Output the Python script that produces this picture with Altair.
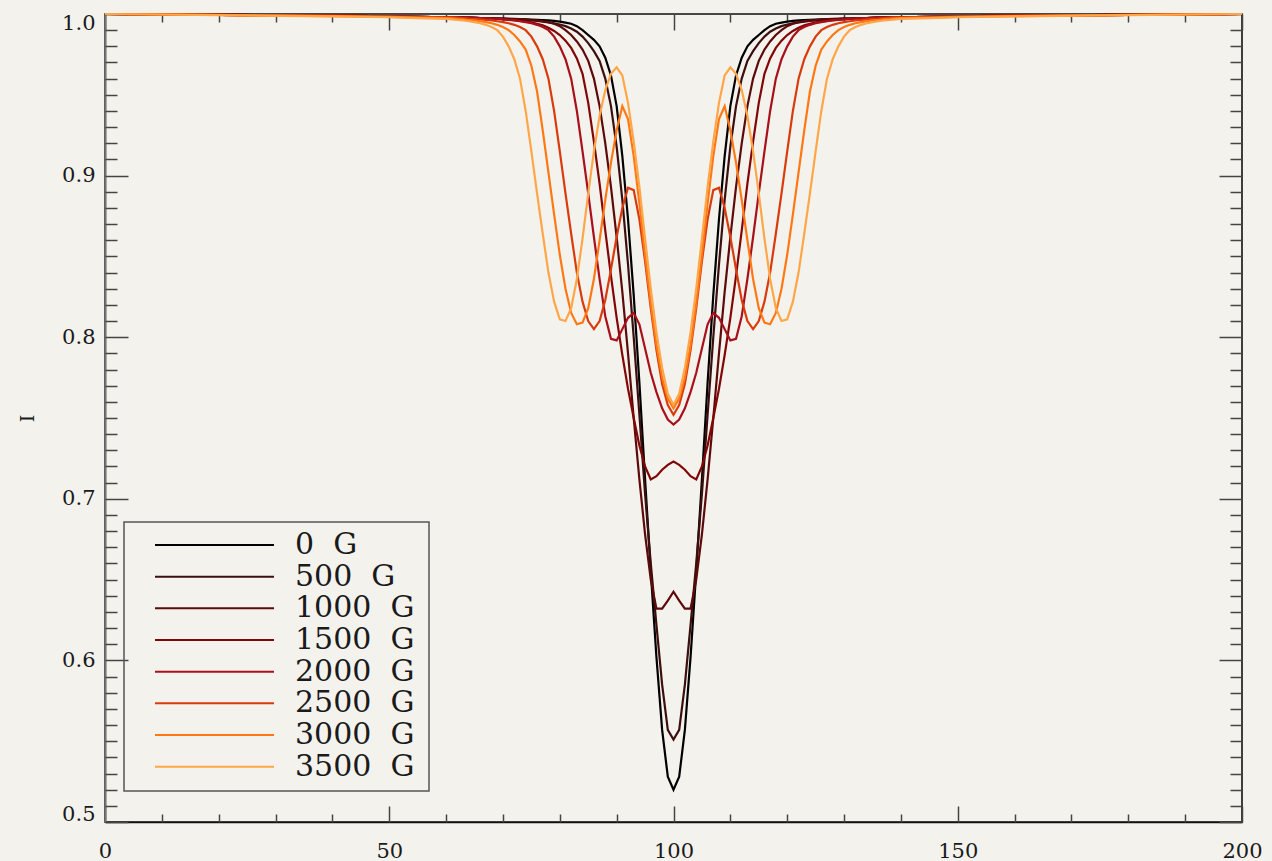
import altair as alt
import pandas as pd

# Sample positions along the wavelength axis (pixel index)
X_POS = [0, 20, 40, 50, 55] + list(range(60, 141)) + [145, 150, 160, 180, 200]

FIELD_LABELS = [
    "0\u00a0\u00a0G", "500\u00a0\u00a0G", "1000\u00a0\u00a0G", "1500\u00a0\u00a0G",
    "2000\u00a0\u00a0G", "2500\u00a0\u00a0G", "3000\u00a0\u00a0G", "3500\u00a0\u00a0G",
]
LINE_COLORS = ["#000000", "#3c0f0f", "#5c0a0a", "#820606", "#a8101a",
               "#d83c0c", "#ff7814", "#ffa648"]

# Stokes I profiles for each field strength
I_0G = [1.0, 0.9995, 0.999, 0.9986, 0.9983,
        0.998, 0.9979, 0.9979, 0.9978, 0.9977, 0.9976, 0.9975, 0.9974, 0.9973, 0.9972,
        0.9971, 0.997, 0.9969, 0.9968, 0.9967, 0.9966, 0.9964, 0.9962, 0.996, 0.9957,
        0.9953, 0.9947, 0.994, 0.9925, 0.990, 0.987, 0.984, 0.980, 0.973, 0.962,
        0.943, 0.912, 0.873, 0.826, 0.772, 0.712, 0.655, 0.602, 0.557, 0.528,
        0.520,
        0.528, 0.557, 0.602, 0.655, 0.712, 0.772, 0.826, 0.873, 0.912, 0.943,
        0.962, 0.973, 0.980, 0.984, 0.987, 0.990, 0.9925, 0.994, 0.9947, 0.9953,
        0.9957, 0.996, 0.9962, 0.9964, 0.9966, 0.9967, 0.9968, 0.9969, 0.997, 0.9971,
        0.9972, 0.9973, 0.9974, 0.9975, 0.9976, 0.9977, 0.9978, 0.9979, 0.9979, 0.998,
        0.9983, 0.9986, 0.999, 0.9995, 1.0]

I_500G = [1.0, 0.9995, 0.999, 0.9986, 0.9983,
          0.998, 0.998, 0.9979, 0.9978, 0.9977, 0.9976, 0.9975, 0.9974, 0.9973, 0.9972,
          0.997, 0.9968, 0.9966, 0.9964, 0.9962, 0.996, 0.9957, 0.9953, 0.9948, 0.9942,
          0.9935, 0.9925, 0.991, 0.989, 0.986, 0.982, 0.977, 0.971, 0.960, 0.943,
          0.918, 0.885, 0.845, 0.800, 0.752, 0.703, 0.660, 0.622, 0.585, 0.557,
          0.551,
          0.557, 0.585, 0.622, 0.660, 0.703, 0.752, 0.800, 0.845, 0.885, 0.918,
          0.943, 0.960, 0.971, 0.977, 0.982, 0.986, 0.989, 0.991, 0.9925, 0.9935,
          0.9942, 0.9948, 0.9953, 0.9957, 0.996, 0.9962, 0.9964, 0.9966, 0.9968, 0.997,
          0.9972, 0.9973, 0.9974, 0.9975, 0.9976, 0.9977, 0.9978, 0.9979, 0.998, 0.998,
          0.9983, 0.9986, 0.999, 0.9995, 1.0]

I_1000G = [1.0, 0.9995, 0.999, 0.9986, 0.9983,
           0.998, 0.998, 0.9979, 0.9978, 0.9977, 0.9976, 0.9975, 0.9974, 0.9973, 0.9972,
           0.9971, 0.997, 0.997, 0.9969, 0.9967, 0.9963, 0.996, 0.9955, 0.995, 0.994,
           0.9925, 0.990, 0.987, 0.983, 0.978, 0.971, 0.960, 0.943, 0.920, 0.893,
           0.862, 0.828, 0.790, 0.750, 0.712, 0.678, 0.650, 0.632, 0.632, 0.637,
           0.6425,
           0.637, 0.632, 0.632, 0.650, 0.678, 0.712, 0.750, 0.790, 0.828, 0.862,
           0.893, 0.920, 0.943, 0.960, 0.971, 0.978, 0.983, 0.987, 0.990, 0.9925,
           0.994, 0.995, 0.9955, 0.996, 0.9963, 0.9967, 0.9969, 0.997, 0.997, 0.9971,
           0.9972, 0.9973, 0.9974, 0.9975, 0.9976, 0.9977, 0.9978, 0.9979, 0.998, 0.998,
           0.9983, 0.9986, 0.999, 0.9995, 1.0]

I_1500G = [1.0, 0.9995, 0.999, 0.9986, 0.9983,
           0.998, 0.998, 0.9979, 0.9978, 0.9977, 0.9976, 0.9975, 0.9974, 0.9972, 0.997,
           0.9968, 0.9965, 0.9962, 0.9958, 0.9953, 0.9948, 0.994, 0.993, 0.9915, 0.9895,
           0.987, 0.9835, 0.979, 0.9725, 0.963, 0.945, 0.921, 0.895, 0.866, 0.838,
           0.812, 0.789, 0.768, 0.750, 0.733, 0.720, 0.712, 0.714, 0.718, 0.721,
           0.723,
           0.721, 0.718, 0.714, 0.712, 0.720, 0.733, 0.750, 0.768, 0.789, 0.812,
           0.838, 0.866, 0.895, 0.921, 0.945, 0.963, 0.9725, 0.979, 0.9835, 0.987,
           0.9895, 0.9915, 0.993, 0.994, 0.9948, 0.9953, 0.9958, 0.9962, 0.9965, 0.9968,
           0.997, 0.9972, 0.9974, 0.9975, 0.9976, 0.9977, 0.9978, 0.9979, 0.998, 0.998,
           0.9983, 0.9986, 0.999, 0.9995, 1.0]

I_2000G = [1.0, 0.9995, 0.999, 0.9986, 0.9983,
           0.998, 0.998, 0.9979, 0.9978, 0.9977, 0.9976, 0.9975, 0.9973, 0.9971, 0.997,
           0.9967, 0.9963, 0.996, 0.9955, 0.995, 0.9943, 0.9933, 0.992, 0.990, 0.986,
           0.980, 0.972, 0.960, 0.940, 0.915, 0.889, 0.862, 0.836, 0.813, 0.799,
           0.798, 0.805, 0.812, 0.815, 0.808, 0.793, 0.778, 0.766, 0.756, 0.749,
           0.746,
           0.749, 0.756, 0.766, 0.778, 0.793, 0.808, 0.815, 0.812, 0.805, 0.798,
           0.799, 0.813, 0.836, 0.862, 0.889, 0.915, 0.940, 0.960, 0.972, 0.980,
           0.986, 0.990, 0.992, 0.9933, 0.9943, 0.995, 0.9955, 0.996, 0.9963, 0.9967,
           0.997, 0.9971, 0.9973, 0.9975, 0.9976, 0.9977, 0.9978, 0.9979, 0.998, 0.998,
           0.9983, 0.9986, 0.999, 0.9995, 1.0]

I_2500G = [1.0, 0.9995, 0.999, 0.9986, 0.9983,
           0.998, 0.998, 0.9977, 0.9975, 0.9972, 0.997, 0.9967, 0.9963, 0.996, 0.9955,
           0.995, 0.9943, 0.9933, 0.992, 0.990, 0.986, 0.980, 0.972, 0.960, 0.940,
           0.915, 0.889, 0.864, 0.840, 0.822, 0.810, 0.805, 0.810, 0.823, 0.842,
           0.862, 0.880, 0.8925, 0.891, 0.873, 0.847, 0.818, 0.792, 0.771, 0.758,
           0.752,
           0.758, 0.771, 0.792, 0.818, 0.847, 0.873, 0.891, 0.8925, 0.880, 0.862,
           0.842, 0.823, 0.810, 0.805, 0.810, 0.822, 0.840, 0.864, 0.889, 0.915,
           0.940, 0.960, 0.972, 0.980, 0.986, 0.990, 0.992, 0.9933, 0.9943, 0.995,
           0.9955, 0.996, 0.9963, 0.9967, 0.997, 0.9972, 0.9975, 0.9977, 0.998, 0.998,
           0.9983, 0.9986, 0.999, 0.9995, 1.0]

I_3000G = [1.0, 0.9994, 0.9987, 0.9982, 0.9978,
           0.9975, 0.9973, 0.997, 0.9967, 0.9963, 0.996, 0.9955, 0.995, 0.9943, 0.9933,
           0.992, 0.990, 0.987, 0.983, 0.978, 0.968, 0.952, 0.928, 0.902, 0.876,
           0.851, 0.830, 0.815, 0.808, 0.809, 0.818, 0.836, 0.860, 0.885, 0.908,
           0.928, 0.943, 0.935, 0.912, 0.883, 0.851, 0.821, 0.795, 0.775, 0.762,
           0.756,
           0.762, 0.775, 0.795, 0.821, 0.851, 0.883, 0.912, 0.935, 0.943, 0.928,
           0.908, 0.885, 0.860, 0.836, 0.818, 0.809, 0.808, 0.815, 0.830, 0.851,
           0.876, 0.902, 0.928, 0.952, 0.968, 0.978, 0.983, 0.987, 0.990, 0.992,
           0.9933, 0.9943, 0.995, 0.9955, 0.996, 0.9963, 0.9967, 0.997, 0.9973, 0.9975,
           0.9978, 0.9982, 0.9987, 0.9994, 1.0]

I_3500G = [1.0, 0.9993, 0.9985, 0.998, 0.9975,
           0.997, 0.9967, 0.9963, 0.996, 0.9955, 0.995, 0.9943, 0.9933, 0.992, 0.990,
           0.986, 0.980, 0.972, 0.960, 0.940, 0.915, 0.889, 0.864, 0.840, 0.822,
           0.811, 0.810, 0.818, 0.836, 0.861, 0.889, 0.915, 0.937, 0.953, 0.963,
           0.967, 0.962, 0.945, 0.921, 0.893, 0.861, 0.830, 0.803, 0.781, 0.765,
           0.758,
           0.765, 0.781, 0.803, 0.830, 0.861, 0.893, 0.921, 0.945, 0.962, 0.967,
           0.963, 0.953, 0.937, 0.915, 0.889, 0.861, 0.836, 0.818, 0.810, 0.811,
           0.822, 0.840, 0.864, 0.889, 0.915, 0.940, 0.960, 0.972, 0.980, 0.986,
           0.990, 0.992, 0.9933, 0.9943, 0.995, 0.9955, 0.996, 0.9963, 0.9967, 0.997,
           0.9975, 0.998, 0.9985, 0.9993, 1.0]

SERIES = [I_0G, I_500G, I_1000G, I_1500G, I_2000G, I_2500G, I_3000G, I_3500G]

rows = []
for label, values in zip(FIELD_LABELS, SERIES):
    assert len(values) == len(X_POS), label
    rows += [{"x": x, "I": v, "field": label} for x, v in zip(X_POS, values)]
profiles = pd.DataFrame(rows)

W, H = 1137, 808
SERIF = "DejaVu Serif"
INK = "#1a1a1a"
TICK = "#444444"

x_scale = alt.Scale(domain=[0, 200], nice=False, zero=False)
y_scale = alt.Scale(domain=[0.5, 1.0], nice=False, zero=False)
color_scale = alt.Scale(domain=FIELD_LABELS, range=LINE_COLORS)

X_MAJOR = [0, 50, 100, 150, 200]
X_MINOR = [v for v in range(10, 200, 10) if v % 50]
Y_MAJOR = [0.5, 0.6, 0.7, 0.8, 0.9, 1.0]
Y_MINOR = [round(0.5 + 0.01 * i, 2) for i in range(1, 50) if i % 10]

# Profiles with the labelled bottom / left axes
lines = alt.Chart(profiles).mark_line(strokeWidth=2.2).encode(
    x=alt.X("x:Q", scale=x_scale, axis=alt.Axis(
        orient="bottom", offset=0, values=X_MAJOR, format="d", ticks=False, tickSize=0,
        labelPadding=18, labelFont=SERIF, labelFontSize=21, labelColor=INK,
        labelFlush=False, domainColor="#111111", domainWidth=1.6, grid=False, title=None)),
    y=alt.Y("I:Q", scale=y_scale, axis=alt.Axis(
        orient="left", offset=0, values=Y_MAJOR, format=".1f", ticks=False, tickSize=0,
        labelPadding=10, labelFont=SERIF, labelFontSize=21, labelColor=INK,
        labelFlush=True, labelFlushOffset=2, domainColor="#777777", domainWidth=2.2,
        grid=False, title="I", titleFont=SERIF, titleFontSize=19,
        titleFontWeight="normal", titleColor=INK, titlePadding=24)),
    color=alt.Color("field:N", scale=color_scale, legend=None),
)

# Inward-pointing ticks on all four sides of the frame
corners = pd.DataFrame({"x": [0, 200], "I": [0.5, 1.0]})


def tick_axis(orient, offset, values, size):
    return alt.Axis(orient=orient, offset=offset, values=values, ticks=True,
                    tickSize=size, tickColor=TICK, tickWidth=1.5, labels=False,
                    domain=False, grid=False, title=None)


def tick_layer(x_axis, y_axis):
    return alt.Chart(corners).mark_point(opacity=0).encode(
        x=alt.X("x:Q", scale=x_scale, axis=x_axis),
        y=alt.Y("I:Q", scale=y_scale, axis=y_axis),
    )


tick_layers = [
    tick_layer(tick_axis("top", -H, X_MAJOR, 16), tick_axis("right", -W, Y_MAJOR, 23)),
    tick_layer(tick_axis("top", -H, X_MINOR, 8), tick_axis("right", -W, Y_MINOR, 12)),
    tick_layer(tick_axis("bottom", -H, X_MAJOR, 16), tick_axis("left", -W, Y_MAJOR, 23)),
    tick_layer(tick_axis("bottom", -H, X_MINOR, 8), tick_axis("left", -W, Y_MINOR, 12)),
]

# Boxed legend in the lower-left corner
legend_rows = pd.DataFrame({"field": FIELD_LABELS, "row": list(range(len(FIELD_LABELS)))})
legend_base = alt.Chart(legend_rows).transform_calculate(ly="531 + 31.67 * datum.row")
legend_lines = legend_base.mark_rule(strokeWidth=2).encode(
    x=alt.value(50), x2=alt.value(169),
    y=alt.Y("ly:Q", scale=None, axis=None),
    color=alt.Color("field:N", scale=color_scale, legend=None),
)
legend_text = legend_base.mark_text(
    align="left", baseline="middle", font=SERIF, fontSize=30, color=INK
).encode(
    x=alt.value(190),
    y=alt.Y("ly:Q", scale=None, axis=None),
    text="field:N",
)
legend_box = alt.Chart(pd.DataFrame({"k": [0]})).mark_rect(
    fillOpacity=0, stroke="#555555", strokeWidth=1.5
).encode(x=alt.value(19), x2=alt.value(324), y=alt.value(508), y2=alt.value(777))

chart = alt.layer(lines, *tick_layers, legend_box, legend_lines, legend_text).resolve_axis(
    x="independent", y="independent"
).properties(
    width=W, height=H,
    padding={"left": 105, "top": 14, "right": 30, "bottom": 39},
    autosize=alt.AutoSizeParams(type="none"),
).configure(
    background="#f4f2ed",
).configure_view(
    stroke="#111111", strokeWidth=1.6,
).configure_axis(grid=False)

chart.save("out.html", embed_options={"renderer": "svg", "actions": False})
